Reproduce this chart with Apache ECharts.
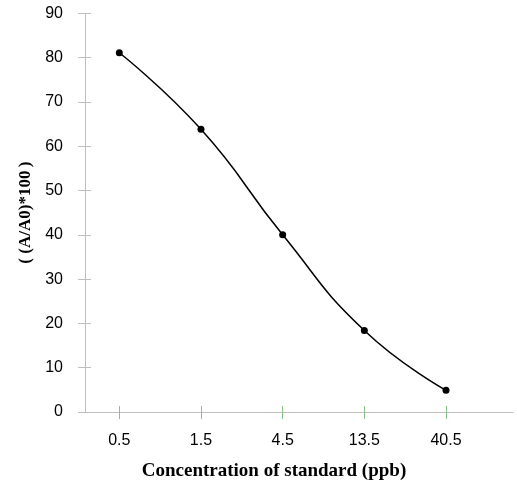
<!DOCTYPE html>
<html>
<head>
<meta charset="utf-8">
<script src="https://cdn.jsdelivr.net/npm/echarts@6/dist/echarts.min.js"></script>
<style>html,body{margin:0;padding:0;background:#fff;}#c{width:517px;height:486px;}</style>
</head>
<body>
<div id="c"></div>
<script>
const categories = ['0.5', '1.5', '4.5', '13.5', '40.5'];
const values = [81.1, 63.8, 40.0, 18.4, 4.9];
const yTicks = [0, 10, 20, 30, 40, 50, 60, 70, 80, 90];

const idx = categories.map((c, i) => i);
const chart = echarts.init(document.getElementById('c'));
const gray = '#bfbfbf';
const green = '#86c386';
const nameFont = { fontFamily: 'Liberation Serif', fontWeight: 'bold', fontSize: 17, color: '#000' };
chart.setOption({
  animation: false,
  backgroundColor: '#fff',
  grid: { left: 85, right: 4, top: 13.3, bottom: 73.5 },
  xAxis: [{
    type: 'value', min: -0.42, max: 4.82, position: 'bottom',
    name: 'Concentration of standard (ppb)', nameLocation: 'middle', nameGap: 50,
    nameTextStyle: { fontFamily: 'Liberation Serif', fontWeight: 'bold', fontSize: 19, color: '#000',
      padding: [0, 50, 0, 0] },
    axisLine: { show: true, onZero: false, lineStyle: { color: gray, width: 1 } },
    axisTick: { show: true, length: 7, customValues: idx, lineStyle: { color: green } },
    axisLabel: { customValues: idx, formatter: v => categories[Math.round(v)], margin: 21,
      fontFamily: 'Liberation Sans', fontSize: 16, color: '#000' },
    splitLine: { show: false }
  }, {
    type: 'value', min: -0.42, max: 4.82, position: 'bottom',
    axisLine: { show: false, onZero: false },
    axisTick: { show: true, inside: true, length: 6, customValues: idx, lineStyle: { color: green } },
    axisLabel: { show: false },
    splitLine: { show: false }
  }],
  yAxis: [{
    type: 'value', min: 0, max: 90, interval: 10, position: 'left',
    name: '{l|(}{t|(A/A0)*100}{r|)}', nameLocation: 'middle', nameGap: 49, nameRotate: 90,
    nameTextStyle: Object.assign({}, nameFont, {
      rich: {
        l: Object.assign({}, nameFont, { width: 10, align: 'left' }),
        t: Object.assign({}, nameFont),
        r: Object.assign({}, nameFont, { width: 9, align: 'right' })
      } }),
    axisLine: { show: true, onZero: false, lineStyle: { color: gray, width: 1 } },
    axisTick: { show: true, length: 7, lineStyle: { color: gray } },
    axisLabel: { margin: 22, fontFamily: 'Liberation Sans', fontSize: 16, color: '#000',
      customValues: yTicks },
    splitLine: { show: false }
  }, {
    type: 'value', min: 0, max: 90, interval: 10, position: 'left',
    axisLine: { show: false, onZero: false },
    axisTick: { show: true, inside: true, length: 6, lineStyle: { color: gray } },
    axisLabel: { show: false },
    splitLine: { show: false }
  }],
  series: [{
    type: 'line',
    data: idx.map(i => [i, values[i]]),
    smooth: 0.5,
    symbol: 'circle', symbolSize: 7,
    lineStyle: { color: '#000', width: 1.5 },
    itemStyle: { color: '#000' }
  }]
});
</script>
</body>
</html>
